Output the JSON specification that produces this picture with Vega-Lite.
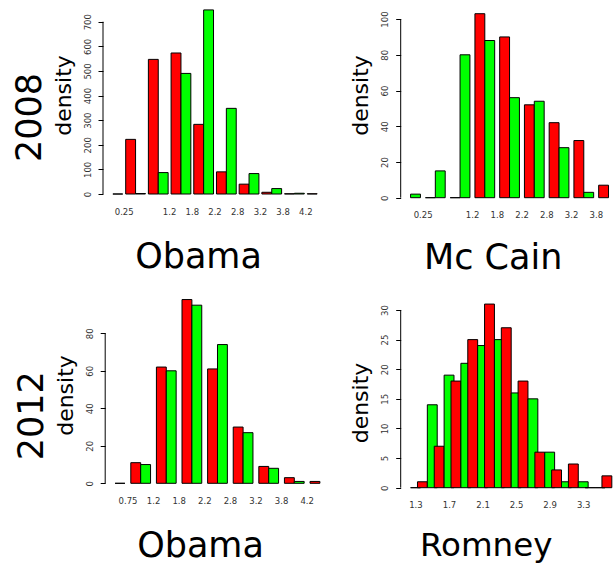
{
  "$schema": "https://vega.github.io/schema/vega-lite/v6.json",
  "padding": {"left": 13, "top": 8, "right": 0, "bottom": 0},
  "bounds": "flush",
  "align": "none",
  "columns": 2,
  "spacing": {"row": 96, "column": 70.7},
  "datasets": {
    "obama08": [
      {"edge": "0.25", "set": "B", "v": 0},
      {"edge": "0.75", "set": "A", "v": 222}, {"edge": "0.75", "set": "B", "v": 2},
      {"edge": "1.2", "set": "A", "v": 547}, {"edge": "1.2", "set": "B", "v": 87},
      {"edge": "1.8", "set": "A", "v": 573}, {"edge": "1.8", "set": "B", "v": 490},
      {"edge": "2.2", "set": "A", "v": 283}, {"edge": "2.2", "set": "B", "v": 748},
      {"edge": "2.8", "set": "A", "v": 90}, {"edge": "2.8", "set": "B", "v": 348},
      {"edge": "3.2", "set": "A", "v": 40}, {"edge": "3.2", "set": "B", "v": 83},
      {"edge": "3.8", "set": "A", "v": 7}, {"edge": "3.8", "set": "B", "v": 22},
      {"edge": "4.2", "set": "A", "v": 1}, {"edge": "4.2", "set": "B", "v": 3},
      {"edge": "4.8", "set": "A", "v": 1}
    ],
    "mccain08": [
      {"edge": "0.25", "set": "B", "v": 2},
      {"edge": "0.75", "set": "A", "v": 0}, {"edge": "0.75", "set": "B", "v": 15},
      {"edge": "1.2", "set": "A", "v": 0}, {"edge": "1.2", "set": "B", "v": 80},
      {"edge": "1.8", "set": "A", "v": 103}, {"edge": "1.8", "set": "B", "v": 88},
      {"edge": "2.2", "set": "A", "v": 90}, {"edge": "2.2", "set": "B", "v": 56},
      {"edge": "2.8", "set": "A", "v": 52}, {"edge": "2.8", "set": "B", "v": 54},
      {"edge": "3.2", "set": "A", "v": 42}, {"edge": "3.2", "set": "B", "v": 28},
      {"edge": "3.8", "set": "A", "v": 32}, {"edge": "3.8", "set": "B", "v": 3},
      {"edge": "4.2", "set": "A", "v": 7}
    ],
    "obama12": [
      {"edge": "0.75", "set": "B", "v": 0},
      {"edge": "1.2", "set": "A", "v": 11}, {"edge": "1.2", "set": "B", "v": 10},
      {"edge": "1.8", "set": "A", "v": 62}, {"edge": "1.8", "set": "B", "v": 60},
      {"edge": "2.2", "set": "A", "v": 98}, {"edge": "2.2", "set": "B", "v": 95},
      {"edge": "2.8", "set": "A", "v": 61}, {"edge": "2.8", "set": "B", "v": 74},
      {"edge": "3.2", "set": "A", "v": 30}, {"edge": "3.2", "set": "B", "v": 27},
      {"edge": "3.8", "set": "A", "v": 9}, {"edge": "3.8", "set": "B", "v": 8},
      {"edge": "4.2", "set": "A", "v": 3}, {"edge": "4.2", "set": "B", "v": 1},
      {"edge": "4.8", "set": "A", "v": 1}
    ],
    "romney12": [
      {"edge": "1.3", "set": "B", "v": 0},
      {"edge": "1.5", "set": "A", "v": 1}, {"edge": "1.5", "set": "B", "v": 14},
      {"edge": "1.7", "set": "A", "v": 7}, {"edge": "1.7", "set": "B", "v": 19},
      {"edge": "1.9", "set": "A", "v": 18}, {"edge": "1.9", "set": "B", "v": 21},
      {"edge": "2.1", "set": "A", "v": 25}, {"edge": "2.1", "set": "B", "v": 24},
      {"edge": "2.3", "set": "A", "v": 31}, {"edge": "2.3", "set": "B", "v": 25},
      {"edge": "2.5", "set": "A", "v": 27}, {"edge": "2.5", "set": "B", "v": 16},
      {"edge": "2.7", "set": "A", "v": 18}, {"edge": "2.7", "set": "B", "v": 15},
      {"edge": "2.9", "set": "A", "v": 6}, {"edge": "2.9", "set": "B", "v": 6},
      {"edge": "3.1", "set": "A", "v": 3}, {"edge": "3.1", "set": "B", "v": 1},
      {"edge": "3.3", "set": "A", "v": 4}, {"edge": "3.3", "set": "B", "v": 1},
      {"edge": "3.5", "set": "A", "v": 0}, {"edge": "3.5", "set": "B", "v": 0},
      {"edge": "3.7", "set": "A", "v": 2}
    ]
  },
  "concat": [
    {
      "title": {"text": "2008", "orient": "left", "anchor": "middle", "frame": "group", "fontSize": 35, "offset": 4, "dx": -16.5},
      "width": 224, "height": 186,
      "data": {"name": "obama08"},
      "layer": [
        {
          "mark": {"type": "bar", "stroke": "#000", "strokeWidth": 1},
          "encoding": {
            "x": {"field": "edge", "type": "nominal", "sort": null,
              "scale": {"paddingInner": 0.13, "paddingOuter": 0},
              "axis": {"title": "Obama", "values": ["0.25", "1.2", "1.8", "2.2", "2.8", "3.2", "3.8", "4.2"], "labelOffset": 11.35, "titleX": 95, "titleY": 73}},
            "xOffset": {"field": "set", "type": "nominal", "scale": {"domain": ["A", "B"]}},
            "y": {"field": "v", "type": "quantitative", "scale": {"domain": [0, 755.8], "nice": false},
              "axis": {"title": "density", "values": [0, 100, 200, 300, 400, 500, 600, 700], "tickCount": 20, "labelOverlap": false, "titleY": 87}},
            "color": {"field": "set", "type": "nominal", "scale": {"domain": ["A", "B"], "range": ["#ff0000", "#00ff00"]}, "legend": null}
          }
        },
        {
          "data": {"values": [{}]},
          "mark": {"type": "rule", "color": "#000", "strokeWidth": 1},
          "encoding": {"x": {"datum": "0.25", "bandPosition": 0}, "y": {"datum": 0}, "y2": {"datum": 700}}
        }
      ]
    },
    {
      "width": 218, "height": 189.7,
      "data": {"name": "mccain08"},
      "layer": [
        {
          "mark": {"type": "bar", "stroke": "#000", "strokeWidth": 1},
          "encoding": {
            "x": {"field": "edge", "type": "nominal", "sort": null,
              "scale": {"paddingInner": 0.19, "paddingOuter": 0},
              "axis": {"title": "Mc Cain", "values": ["0.25", "1.2", "1.8", "2.2", "2.8", "3.2", "3.8"], "labelOffset": 12.38, "titleX": 92, "titleY": 70.3}},
            "xOffset": {"field": "set", "type": "nominal", "scale": {"domain": ["A", "B"]}},
            "y": {"field": "v", "type": "quantitative", "scale": {"domain": [0, 106.2], "nice": false},
              "axis": {"title": "density", "values": [0, 20, 40, 60, 80, 100], "tickCount": 20, "labelOverlap": false, "titleY": 87}},
            "color": {"field": "set", "type": "nominal", "scale": {"domain": ["A", "B"], "range": ["#ff0000", "#00ff00"]}, "legend": null}
          }
        },
        {
          "data": {"values": [{}]},
          "mark": {"type": "rule", "color": "#000", "strokeWidth": 1},
          "encoding": {"x": {"datum": "0.25", "bandPosition": 0}, "y": {"datum": 0}, "y2": {"datum": 100}}
        }
      ]
    },
    {
      "title": {"text": "2012", "orient": "left", "anchor": "middle", "frame": "group", "fontSize": 35, "offset": 4, "dx": -27},
      "width": 227, "height": 189.3,
      "data": {"name": "obama12"},
      "layer": [
        {
          "mark": {"type": "bar", "stroke": "#000", "strokeWidth": 1},
          "encoding": {
            "x": {"field": "edge", "type": "nominal", "sort": null,
              "scale": {"paddingInner": 0.22, "paddingOuter": 0.043, "align": 1},
              "axis": {"title": "Obama", "values": ["0.75", "1.2", "1.8", "2.2", "2.8", "3.2", "3.8", "4.2"], "labelOffset": 12.8, "titleX": 97, "titleY": 73}},
            "xOffset": {"field": "set", "type": "nominal", "scale": {"domain": ["A", "B"]}},
            "y": {"field": "v", "type": "quantitative", "scale": {"domain": [0, 100.96], "nice": false},
              "axis": {"title": "density", "values": [0, 20, 40, 60, 80], "tickCount": 20, "offset": -2.2, "labelOverlap": false, "titleY": 101}},
            "color": {"field": "set", "type": "nominal", "scale": {"domain": ["A", "B"], "range": ["#ff0000", "#00ff00"]}, "legend": null}
          }
        },
        {
          "data": {"values": [{}]},
          "mark": {"type": "rule", "color": "#000", "strokeWidth": 1},
          "encoding": {"x": {"datum": "0.75", "bandPosition": 0}, "y": {"datum": 0}, "y2": {"datum": 80}}
        }
      ]
    },
    {
      "width": 215, "height": 193.7,
      "data": {"name": "romney12"},
      "layer": [
        {
          "mark": {"type": "bar", "stroke": "#000", "strokeWidth": 1},
          "encoding": {
            "x": {"field": "edge", "type": "nominal", "sort": null,
              "scale": {"paddingInner": 0.18, "paddingOuter": 0},
              "axis": {"title": "Romney", "values": ["1.3", "1.7", "2.1", "2.5", "2.9", "3.3"], "labelOffset": 8.38, "titleX": 85, "titleY": 68, "titleFontSize": 32.5}},
            "xOffset": {"field": "set", "type": "nominal", "scale": {"domain": ["A", "B"]}},
            "y": {"field": "v", "type": "quantitative", "scale": {"domain": [0, 32.7], "nice": false},
              "axis": {"title": "density", "values": [0, 5, 10, 15, 20, 25, 30], "tickCount": 20, "labelOverlap": false, "titleY": 108.5}},
            "color": {"field": "set", "type": "nominal", "scale": {"domain": ["A", "B"], "range": ["#ff0000", "#00ff00"]}, "legend": null}
          }
        },
        {
          "data": {"values": [{}]},
          "mark": {"type": "rule", "color": "#000", "strokeWidth": 1},
          "encoding": {"x": {"datum": "1.3", "bandPosition": 0}, "y": {"datum": 0}, "y2": {"datum": 30}}
        }
      ]
    }
  ],
  "config": {
    "view": {"stroke": null},
    "font": "DejaVu Sans",
    "title": {"font": "DejaVu Sans", "fontWeight": "normal", "color": "#000"},
    "axisX": {"domain": false, "ticks": false, "labelAngle": 0, "labelFontSize": 8.5, "labelPadding": 13, "labelOverlap": false,
      "titleFontSize": 35, "titleAlign": "center", "titleBaseline": "alphabetic", "labelBaseline": "top"},
    "axisY": {"domain": false, "grid": false, "tickSize": 5, "labelAngle": -90, "labelFontSize": 8.5, "labelPadding": 6,
      "labelOverlap": false, "titleFontSize": 22, "titlePadding": 8},
    "axis": {"labelFont": "DejaVu Sans", "titleFont": "DejaVu Sans", "titleFontWeight": "normal", "labelColor": "#333", "titleColor": "#000", "tickColor": "#000"}
  }
}
